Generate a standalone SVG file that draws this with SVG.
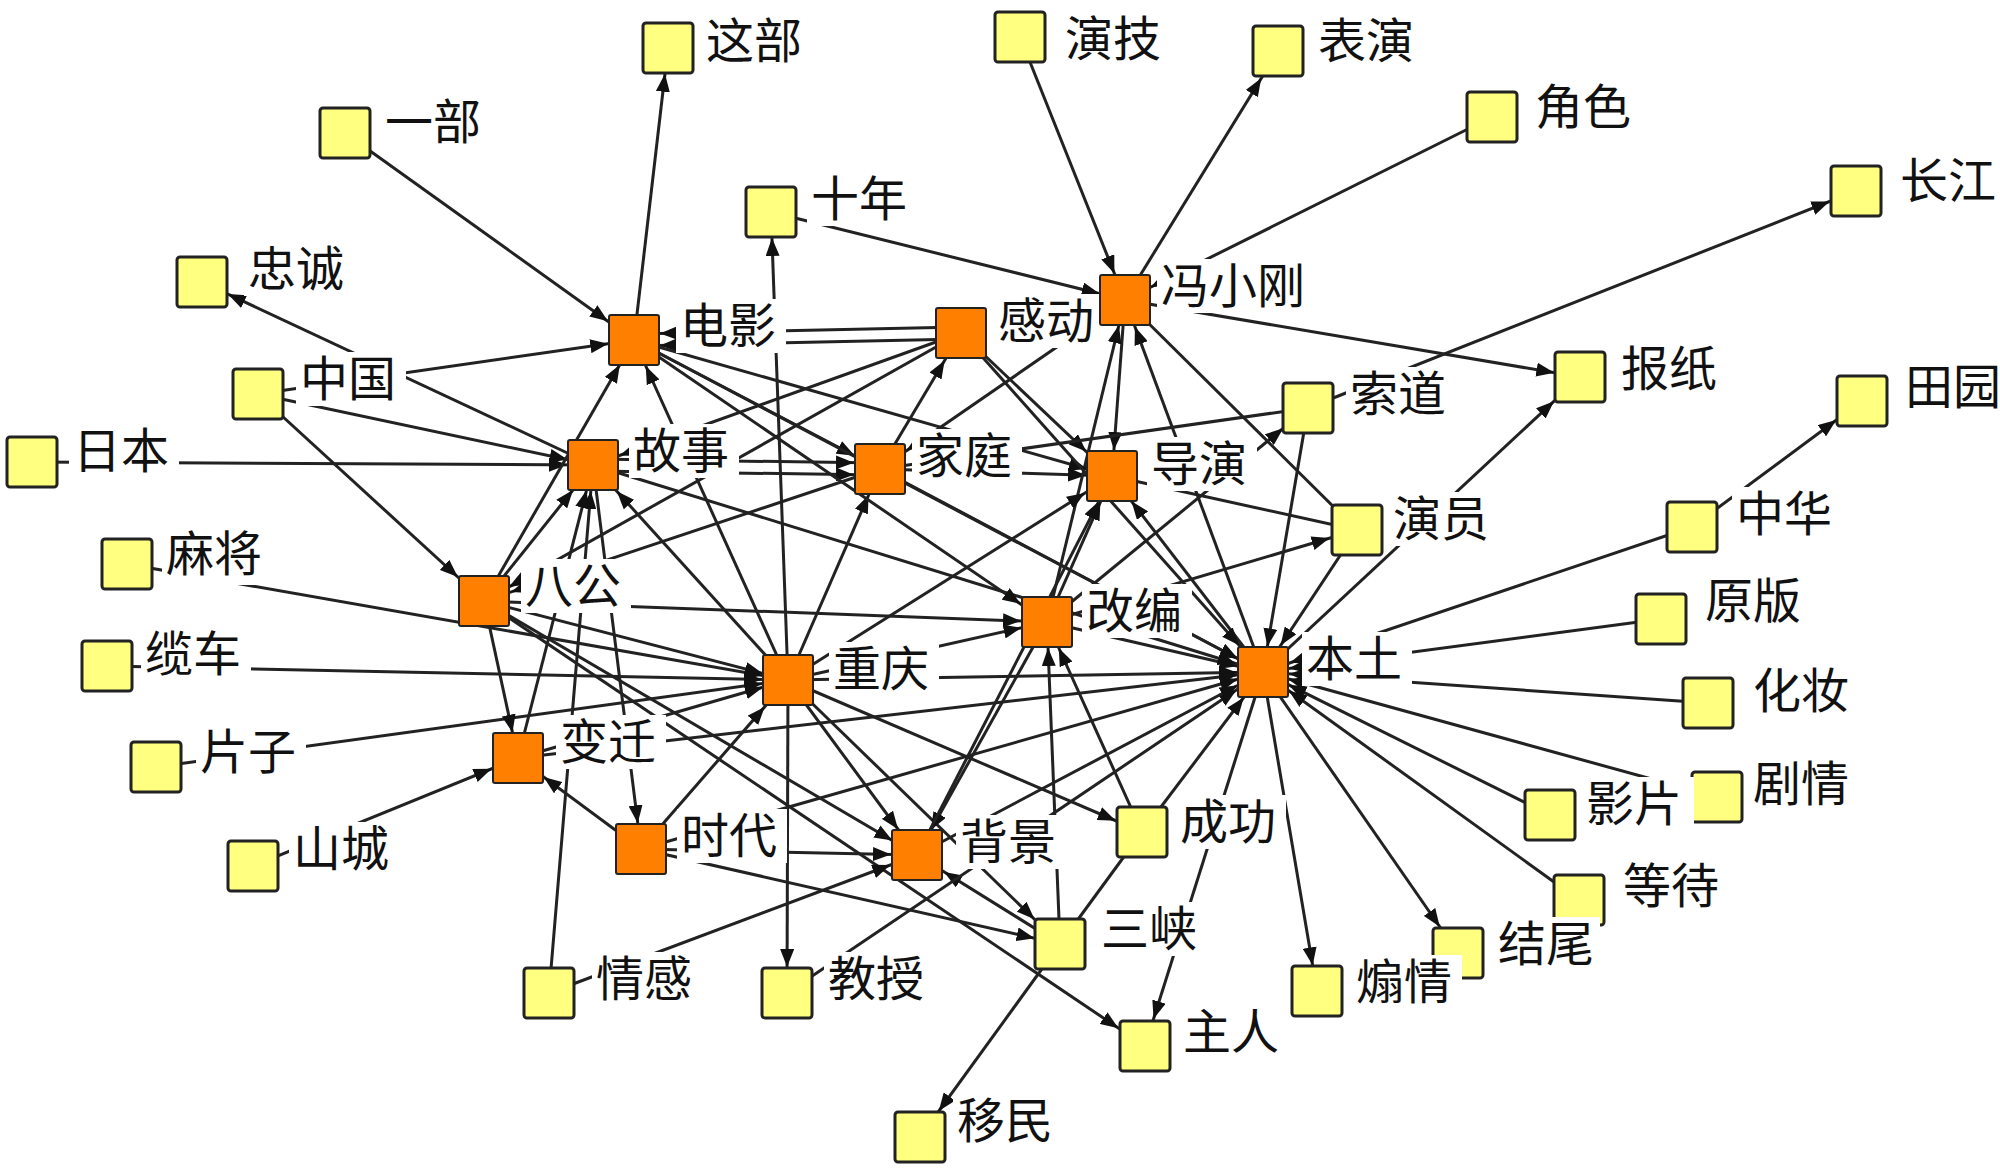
<svg xmlns="http://www.w3.org/2000/svg" width="2000" height="1170" viewBox="0 0 2000 1170">
<style>
.e{stroke:#222;stroke-width:3;fill:none}
.y{fill:#ffff80;stroke:#222;stroke-width:3}
.o{fill:#ff7f00;stroke:#222;stroke-width:2}
.lb{fill:#fff}
.t{font-family:"Noto Sans CJK SC","Noto Sans",sans-serif;font-size:48px;fill:#111}
</style>
<defs>
<marker id="a0" markerUnits="userSpaceOnUse" markerWidth="18" markerHeight="14" refX="44" refY="7" orient="auto"><path d="M0,0 L18,7 L0,14 z" fill="#111"/></marker>
<marker id="a1" markerUnits="userSpaceOnUse" markerWidth="18" markerHeight="14" refX="46.5" refY="7" orient="auto"><path d="M0,0 L18,7 L0,14 z" fill="#111"/></marker>
<marker id="a2" markerUnits="userSpaceOnUse" markerWidth="18" markerHeight="14" refX="50" refY="7" orient="auto"><path d="M0,0 L18,7 L0,14 z" fill="#111"/></marker>
<marker id="a3" markerUnits="userSpaceOnUse" markerWidth="18" markerHeight="14" refX="53.5" refY="7" orient="auto"><path d="M0,0 L18,7 L0,14 z" fill="#111"/></marker>
</defs>
<rect width="2000" height="1170" fill="#fff"/>
<g id="edges">
<line class="e" x1="345" y1="133" x2="634" y2="340" marker-end="url(#a2)"/>
<line class="e" x1="634" y1="340" x2="668" y2="48" marker-end="url(#a0)"/>
<line class="e" x1="593" y1="465" x2="202" y2="282" marker-end="url(#a1)"/>
<line class="e" x1="258" y1="394" x2="634" y2="340" marker-end="url(#a0)"/>
<line class="e" x1="258" y1="394" x2="593" y2="465" marker-end="url(#a0)"/>
<line class="e" x1="258" y1="394" x2="484" y2="601" marker-end="url(#a3)"/>
<line class="e" x1="32" y1="462" x2="593" y2="465" marker-end="url(#a0)"/>
<line class="e" x1="127" y1="564" x2="788" y2="680" marker-end="url(#a0)"/>
<line class="e" x1="107" y1="666" x2="788" y2="680" marker-end="url(#a0)"/>
<line class="e" x1="156" y1="767" x2="788" y2="680" marker-end="url(#a0)"/>
<line class="e" x1="253" y1="866" x2="518" y2="758" marker-end="url(#a1)"/>
<line class="e" x1="788" y1="680" x2="771" y2="212" marker-end="url(#a0)"/>
<line class="e" x1="771" y1="212" x2="1125" y2="300" marker-end="url(#a0)"/>
<line class="e" x1="1020" y1="37" x2="1125" y2="300" marker-end="url(#a1)"/>
<line class="e" x1="1125" y1="300" x2="1278" y2="51" marker-end="url(#a2)"/>
<line class="e" x1="1492" y1="117" x2="1125" y2="300" marker-end="url(#a1)"/>
<line class="e" x1="1125" y1="300" x2="1580" y2="377" marker-end="url(#a0)"/>
<line class="e" x1="1308" y1="408" x2="1856" y2="191" marker-end="url(#a1)"/>
<line class="e" x1="1263" y1="672" x2="1580" y2="377" marker-end="url(#a3)"/>
<line class="e" x1="1692" y1="527" x2="1862" y2="401" marker-end="url(#a2)"/>
<line class="e" x1="1692" y1="527" x2="1263" y2="672" marker-end="url(#a1)"/>
<line class="e" x1="1661" y1="619" x2="1263" y2="672" marker-end="url(#a0)"/>
<line class="e" x1="1708" y1="703" x2="1263" y2="672" marker-end="url(#a0)"/>
<line class="e" x1="1717" y1="797" x2="1263" y2="672" marker-end="url(#a0)"/>
<line class="e" x1="1550" y1="815" x2="1263" y2="672" marker-end="url(#a1)"/>
<line class="e" x1="1579" y1="900" x2="1263" y2="672" marker-end="url(#a2)"/>
<line class="e" x1="1263" y1="672" x2="1458" y2="953" marker-end="url(#a2)"/>
<line class="e" x1="1263" y1="672" x2="1317" y2="991" marker-end="url(#a0)"/>
<line class="e" x1="1263" y1="672" x2="1145" y2="1046" marker-end="url(#a1)"/>
<line class="e" x1="484" y1="601" x2="1145" y2="1046" marker-end="url(#a2)"/>
<line class="e" x1="1060" y1="944" x2="920" y2="1137" marker-end="url(#a2)"/>
<line class="e" x1="1060" y1="944" x2="1142" y2="832"/>
<line class="e" x1="1060" y1="944" x2="1047" y2="622" marker-end="url(#a0)"/>
<line class="e" x1="1060" y1="944" x2="917" y2="855" marker-end="url(#a2)"/>
<line class="e" x1="788" y1="680" x2="1060" y2="944" marker-end="url(#a3)"/>
<line class="e" x1="641" y1="849" x2="1060" y2="944" marker-end="url(#a0)"/>
<line class="e" x1="788" y1="680" x2="787" y2="993" marker-end="url(#a0)"/>
<line class="e" x1="787" y1="993" x2="1263" y2="672" marker-end="url(#a2)"/>
<line class="e" x1="549" y1="993" x2="593" y2="465" marker-end="url(#a0)"/>
<line class="e" x1="549" y1="993" x2="917" y2="855" marker-end="url(#a1)"/>
<line class="e" x1="593" y1="465" x2="641" y2="849" marker-end="url(#a0)"/>
<line class="e" x1="641" y1="849" x2="917" y2="855" marker-end="url(#a0)"/>
<line class="e" x1="641" y1="849" x2="788" y2="680" marker-end="url(#a3)"/>
<line class="e" x1="641" y1="849" x2="518" y2="758" marker-end="url(#a2)"/>
<line class="e" x1="484" y1="601" x2="518" y2="758" marker-end="url(#a0)"/>
<line class="e" x1="518" y1="758" x2="788" y2="680" marker-end="url(#a0)"/>
<line class="e" x1="484" y1="601" x2="593" y2="465" marker-end="url(#a2)"/>
<line class="e" x1="484" y1="601" x2="634" y2="340" marker-end="url(#a1)"/>
<line class="e" x1="484" y1="601" x2="1047" y2="622" marker-end="url(#a0)"/>
<line class="e" x1="788" y1="680" x2="634" y2="340" marker-end="url(#a1)"/>
<line class="e" x1="961" y1="327" x2="634" y2="334" marker-end="url(#a0)"/>
<line class="e" x1="961" y1="339" x2="634" y2="346" marker-end="url(#a0)"/>
<line class="e" x1="961" y1="333" x2="593" y2="465" marker-end="url(#a1)"/>
<line class="e" x1="961" y1="333" x2="484" y2="601" marker-end="url(#a1)"/>
<line class="e" x1="593" y1="459" x2="880" y2="463" marker-end="url(#a0)"/>
<line class="e" x1="593" y1="471" x2="880" y2="475" marker-end="url(#a0)"/>
<line class="e" x1="880" y1="469" x2="1112" y2="476" marker-end="url(#a0)"/>
<line class="e" x1="788" y1="680" x2="880" y2="469" marker-end="url(#a1)"/>
<line class="e" x1="634" y1="340" x2="880" y2="469" marker-end="url(#a1)"/>
<line class="e" x1="880" y1="469" x2="961" y2="333" marker-end="url(#a2)"/>
<line class="e" x1="880" y1="469" x2="1263" y2="672" marker-end="url(#a1)"/>
<line class="e" x1="961" y1="333" x2="1112" y2="476" marker-end="url(#a3)"/>
<line class="e" x1="1125" y1="300" x2="1112" y2="476" marker-end="url(#a0)"/>
<line class="e" x1="1047" y1="622" x2="1125" y2="300" marker-end="url(#a0)"/>
<line class="e" x1="1263" y1="672" x2="1125" y2="300" marker-end="url(#a1)"/>
<line class="e" x1="1125" y1="300" x2="1357" y2="530"/>
<line class="e" x1="1112" y1="476" x2="1357" y2="530"/>
<line class="e" x1="1047" y1="622" x2="1357" y2="530" marker-end="url(#a1)"/>
<line class="e" x1="1047" y1="622" x2="1308" y2="408" marker-end="url(#a2)"/>
<line class="e" x1="1308" y1="408" x2="880" y2="469"/>
<line class="e" x1="1308" y1="408" x2="1263" y2="672" marker-end="url(#a0)"/>
<line class="e" x1="1357" y1="530" x2="1263" y2="672" marker-end="url(#a2)"/>
<line class="e" x1="1263" y1="672" x2="1112" y2="476" marker-end="url(#a2)"/>
<line class="e" x1="788" y1="680" x2="1263" y2="672" marker-end="url(#a0)"/>
<line class="e" x1="1047" y1="622" x2="1263" y2="672" marker-end="url(#a0)"/>
<line class="e" x1="593" y1="465" x2="1263" y2="672" marker-end="url(#a1)"/>
<line class="e" x1="634" y1="340" x2="1263" y2="672" marker-end="url(#a1)"/>
<line class="e" x1="917" y1="855" x2="1263" y2="672" marker-end="url(#a1)"/>
<line class="e" x1="641" y1="849" x2="1263" y2="672" marker-end="url(#a0)"/>
<line class="e" x1="518" y1="758" x2="1263" y2="672" marker-end="url(#a0)"/>
<line class="e" x1="1142" y1="832" x2="1263" y2="672" marker-end="url(#a2)"/>
<line class="e" x1="788" y1="680" x2="1047" y2="622" marker-end="url(#a0)"/>
<line class="e" x1="788" y1="680" x2="593" y2="465" marker-end="url(#a3)"/>
<line class="e" x1="788" y1="680" x2="917" y2="855" marker-end="url(#a2)"/>
<line class="e" x1="788" y1="680" x2="1142" y2="832" marker-end="url(#a1)"/>
<line class="e" x1="634" y1="340" x2="1112" y2="476" marker-end="url(#a0)"/>
<line class="e" x1="634" y1="340" x2="1047" y2="622" marker-end="url(#a2)"/>
<line class="e" x1="1047" y1="622" x2="917" y2="855" marker-end="url(#a1)"/>
<line class="e" x1="917" y1="855" x2="1112" y2="476" marker-end="url(#a1)"/>
<line class="e" x1="788" y1="680" x2="1112" y2="476" marker-end="url(#a2)"/>
<line class="e" x1="518" y1="758" x2="593" y2="465" marker-end="url(#a0)"/>
<line class="e" x1="484" y1="601" x2="788" y2="680" marker-end="url(#a0)"/>
<line class="e" x1="1142" y1="832" x2="1047" y2="622" marker-end="url(#a1)"/>
<line class="e" x1="1125" y1="300" x2="880" y2="469" marker-end="url(#a2)"/>
<line class="e" x1="961" y1="333" x2="1263" y2="672" marker-end="url(#a3)"/>
<line class="e" x1="1047" y1="622" x2="1112" y2="476" marker-end="url(#a1)"/>
<line class="e" x1="484" y1="601" x2="917" y2="855" marker-end="url(#a1)"/>
<line class="e" x1="880" y1="469" x2="484" y2="601" marker-end="url(#a1)"/>
</g>
<g id="nodes">
<g id="n-zhebu"><rect class="y" x="643" y="23" width="50" height="50" rx="3"/><rect class="lb" x="702" y="14" width="110" height="54"/><text class="t" x="706" y="58">这部</text></g>
<g id="n-yibu"><rect class="y" x="320" y="108" width="50" height="50" rx="3"/><rect class="lb" x="381" y="95" width="110" height="54"/><text class="t" x="385" y="139">一部</text></g>
<g id="n-zhongcheng"><rect class="y" x="177" y="257" width="50" height="50" rx="3"/><rect class="lb" x="244" y="242" width="110" height="54"/><text class="t" x="248" y="286">忠诚</text></g>
<g id="n-shinian"><rect class="y" x="746" y="187" width="50" height="50" rx="3"/><rect class="lb" x="807" y="172" width="110" height="54"/><text class="t" x="811" y="216">十年</text></g>
<g id="n-dianying"><rect class="o" x="609" y="315" width="50" height="50" rx="2"/><rect class="lb" x="676" y="299" width="110" height="54"/><text class="t" x="680" y="343">电影</text></g>
<g id="n-gandong"><rect class="o" x="936" y="308" width="50" height="50" rx="2"/><rect class="lb" x="994" y="294" width="110" height="54"/><text class="t" x="998" y="338">感动</text></g>
<g id="n-fengxiaogang"><rect class="o" x="1100" y="275" width="50" height="50" rx="2"/><rect class="lb" x="1157" y="259" width="158" height="54"/><text class="t" x="1161" y="303">冯小刚</text></g>
<g id="n-yanji"><rect class="y" x="995" y="12" width="50" height="50" rx="3"/><rect class="lb" x="1061" y="8" width="110" height="56"/><text class="t" x="1065" y="56">演技</text></g>
<g id="n-biaoyan"><rect class="y" x="1253" y="26" width="50" height="50" rx="3"/><rect class="lb" x="1314" y="14" width="110" height="54"/><text class="t" x="1318" y="58">表演</text></g>
<g id="n-juese"><rect class="y" x="1467" y="92" width="50" height="50" rx="3"/><rect class="lb" x="1531" y="80" width="110" height="54"/><text class="t" x="1535" y="124">角色</text></g>
<g id="n-changjiang"><rect class="y" x="1831" y="166" width="50" height="50" rx="3"/><rect class="lb" x="1896" y="154" width="104" height="54"/><text class="t" x="1900" y="198">长江</text></g>
<g id="n-baozhi"><rect class="y" x="1555" y="352" width="50" height="50" rx="3"/><rect class="lb" x="1617" y="342" width="110" height="54"/><text class="t" x="1621" y="386">报纸</text></g>
<g id="n-tianyuan"><rect class="y" x="1837" y="376" width="50" height="50" rx="3"/><rect class="lb" x="1901" y="360" width="99" height="54"/><text class="t" x="1905" y="404">田园</text></g>
<g id="n-zhonghua"><rect class="y" x="1667" y="502" width="50" height="50" rx="3"/><rect class="lb" x="1732" y="487" width="110" height="54"/><text class="t" x="1736" y="531">中华</text></g>
<g id="n-yuanban"><rect class="y" x="1636" y="594" width="50" height="50" rx="3"/><rect class="lb" x="1701" y="574" width="110" height="54"/><text class="t" x="1705" y="618">原版</text></g>
<g id="n-huazhuang"><rect class="y" x="1683" y="678" width="50" height="50" rx="3"/><rect class="lb" x="1749" y="664" width="110" height="54"/><text class="t" x="1753" y="708">化妆</text></g>
<g id="n-juqing"><rect class="y" x="1692" y="772" width="50" height="50" rx="3"/><rect class="lb" x="1749" y="757" width="110" height="54"/><text class="t" x="1753" y="801">剧情</text></g>
<g id="n-yingpian"><rect class="y" x="1525" y="790" width="50" height="50" rx="3"/><rect class="lb" x="1582" y="777" width="112" height="54"/><text class="t" x="1586" y="821">影片</text></g>
<g id="n-dengdai"><rect class="y" x="1554" y="875" width="50" height="50" rx="3"/><rect class="lb" x="1619" y="859" width="110" height="54"/><text class="t" x="1623" y="903">等待</text></g>
<g id="n-jiewei"><rect class="y" x="1433" y="928" width="50" height="50" rx="3"/><rect class="lb" x="1494" y="917" width="106" height="54"/><text class="t" x="1498" y="961">结尾</text></g>
<g id="n-shanqing"><rect class="y" x="1292" y="966" width="50" height="50" rx="3"/><rect class="lb" x="1352" y="955" width="110" height="54"/><text class="t" x="1356" y="999">煽情</text></g>
<g id="n-zhuren"><rect class="y" x="1120" y="1021" width="50" height="50" rx="3"/><rect class="lb" x="1179" y="1005" width="110" height="54"/><text class="t" x="1183" y="1049">主人</text></g>
<g id="n-sanxia"><rect class="y" x="1035" y="919" width="50" height="50" rx="3"/><rect class="lb" x="1097" y="902" width="110" height="54"/><text class="t" x="1101" y="946">三峡</text></g>
<g id="n-chenggong"><rect class="y" x="1117" y="807" width="50" height="50" rx="3"/><rect class="lb" x="1176" y="795" width="110" height="54"/><text class="t" x="1180" y="839">成功</text></g>
<g id="n-beijing"><rect class="o" x="892" y="830" width="50" height="50" rx="2"/><rect class="lb" x="956" y="815" width="110" height="54"/><text class="t" x="960" y="859">背景</text></g>
<g id="n-shidai"><rect class="o" x="616" y="824" width="50" height="50" rx="2"/><rect class="lb" x="677" y="809" width="110" height="54"/><text class="t" x="681" y="853">时代</text></g>
<g id="n-qinggan"><rect class="y" x="524" y="968" width="50" height="50" rx="3"/><rect class="lb" x="592" y="952" width="110" height="54"/><text class="t" x="596" y="996">情感</text></g>
<g id="n-jiaoshou"><rect class="y" x="762" y="968" width="50" height="50" rx="3"/><rect class="lb" x="824" y="952" width="110" height="54"/><text class="t" x="828" y="996">教授</text></g>
<g id="n-yimin"><rect class="y" x="895" y="1112" width="50" height="50" rx="3"/><rect class="lb" x="953" y="1094" width="110" height="54"/><text class="t" x="957" y="1138">移民</text></g>
<g id="n-shancheng"><rect class="y" x="228" y="841" width="50" height="50" rx="3"/><rect class="lb" x="289" y="822" width="110" height="54"/><text class="t" x="293" y="866">山城</text></g>
<g id="n-pianzi"><rect class="y" x="131" y="742" width="50" height="50" rx="3"/><rect class="lb" x="196" y="725" width="110" height="54"/><text class="t" x="200" y="769">片子</text></g>
<g id="n-lanche"><rect class="y" x="82" y="641" width="50" height="50" rx="3"/><rect class="lb" x="141" y="627" width="110" height="54"/><text class="t" x="145" y="671">缆车</text></g>
<g id="n-majiang"><rect class="y" x="102" y="539" width="50" height="50" rx="3"/><rect class="lb" x="162" y="527" width="110" height="58"/><text class="t" x="166" y="571">麻将</text></g>
<g id="n-riben"><rect class="y" x="7" y="437" width="50" height="50" rx="3"/><rect class="lb" x="69" y="424" width="110" height="54"/><text class="t" x="73" y="468">日本</text></g>
<g id="n-zhongguo"><rect class="y" x="233" y="369" width="50" height="50" rx="3"/><rect class="lb" x="296" y="352" width="110" height="54"/><text class="t" x="300" y="396">中国</text></g>
<g id="n-bagong"><rect class="o" x="459" y="576" width="50" height="50" rx="2"/><rect class="lb" x="521" y="559" width="110" height="54"/><text class="t" x="525" y="603">八公</text></g>
<g id="n-gushi"><rect class="o" x="568" y="440" width="50" height="50" rx="2"/><rect class="lb" x="629" y="424" width="110" height="54"/><text class="t" x="633" y="468">故事</text></g>
<g id="n-jiating"><rect class="o" x="855" y="444" width="50" height="50" rx="2"/><rect class="lb" x="912" y="429" width="110" height="54"/><text class="t" x="916" y="473">家庭</text></g>
<g id="n-chongqing"><rect class="o" x="763" y="655" width="50" height="50" rx="2"/><rect class="lb" x="829" y="642" width="110" height="54"/><text class="t" x="833" y="686">重庆</text></g>
<g id="n-bianqian"><rect class="o" x="493" y="733" width="50" height="50" rx="2"/><rect class="lb" x="556" y="715" width="110" height="54"/><text class="t" x="560" y="759">变迁</text></g>
<g id="n-daoyan"><rect class="o" x="1087" y="451" width="50" height="50" rx="2"/><rect class="lb" x="1147" y="437" width="110" height="54"/><text class="t" x="1151" y="481">导演</text></g>
<g id="n-suodao"><rect class="y" x="1283" y="383" width="50" height="50" rx="3"/><rect class="lb" x="1346" y="367" width="110" height="54"/><text class="t" x="1350" y="411">索道</text></g>
<g id="n-yanyuan"><rect class="y" x="1332" y="505" width="50" height="50" rx="3"/><rect class="lb" x="1389" y="492" width="110" height="54"/><text class="t" x="1393" y="536">演员</text></g>
<g id="n-gaibian"><rect class="o" x="1022" y="597" width="50" height="50" rx="2"/><rect class="lb" x="1082" y="584" width="110" height="54"/><text class="t" x="1086" y="628">改编</text></g>
<g id="n-bentu"><rect class="o" x="1238" y="647" width="50" height="50" rx="2"/><rect class="lb" x="1302" y="632" width="110" height="54"/><text class="t" x="1306" y="676">本土</text></g>
</g>
</svg>
